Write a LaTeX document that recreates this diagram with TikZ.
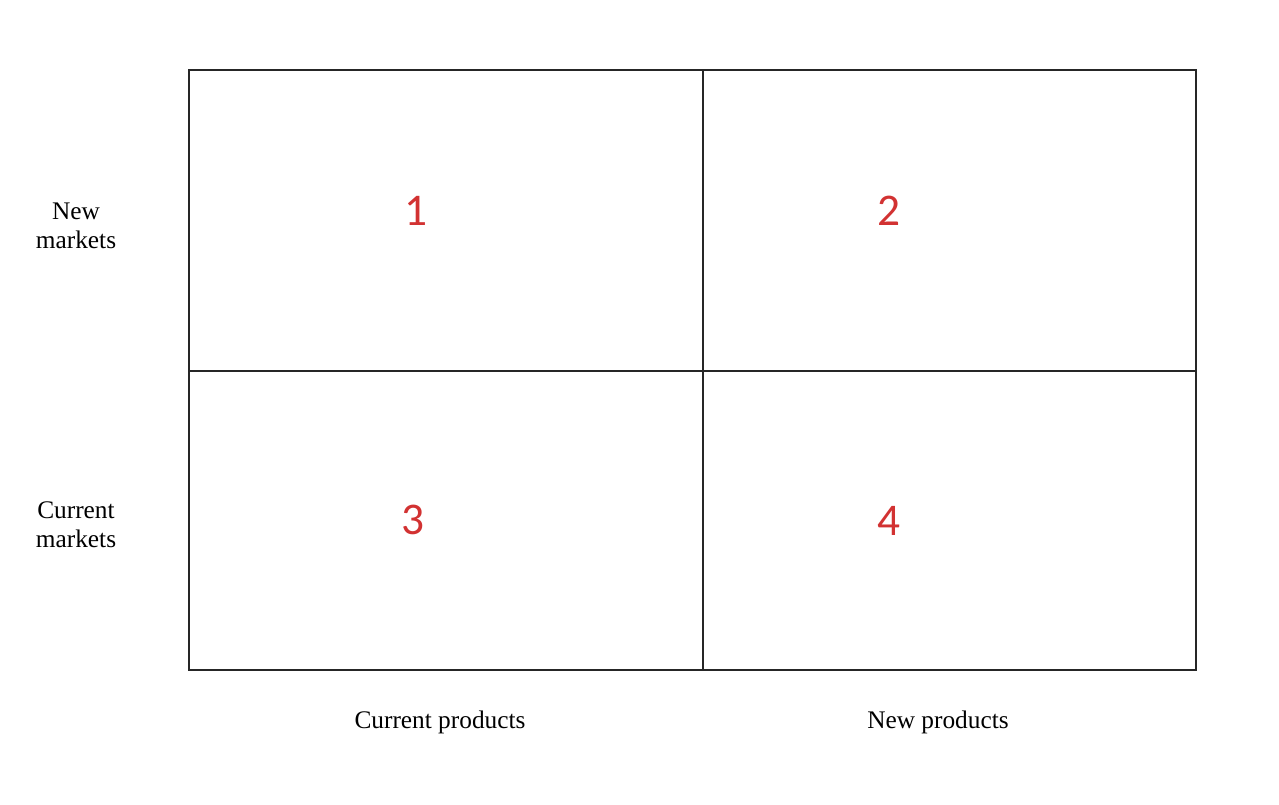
\documentclass[tikz,border=0pt]{standalone}
\usepackage{fontspec}
\setmainfont{Liberation Serif}
\newfontfamily\numfont{Carlito}
\definecolor{numred}{RGB}{210,50,50}
\begin{document}
\begin{tikzpicture}[x=0.75pt,y=-0.75pt,
  lbl/.style={font=\fontsize{19}{22}\selectfont,align=center,inner sep=0},
  num/.style={font=\numfont\fontsize{34}{36}\selectfont,text=numred,inner sep=0},
  grid/.style={line width=1.3pt,draw=black!85}]
\useasboundingbox (0,0) rectangle (1279,804);
\draw[grid] (189,70) rectangle (1196,670);
\draw[grid] (703,70) -- (703,670);
\draw[grid] (189,371) -- (1196,371);
\node[lbl] (nm) at (76,226) {New\\markets};
\node[lbl] (cm) at (76,525) {Current\\markets};
\node[lbl] (cp) at (440,722) {Current products};
\node[lbl] (np) at (938,722) {New products};
\node[num] (n1) at (416,211) {1};
\node[num] (n2) at (889,211) {2};
\node[num] (n3) at (413,520) {3};
\node[num] (n4) at (889,521) {4};
\end{tikzpicture}
\end{document}
